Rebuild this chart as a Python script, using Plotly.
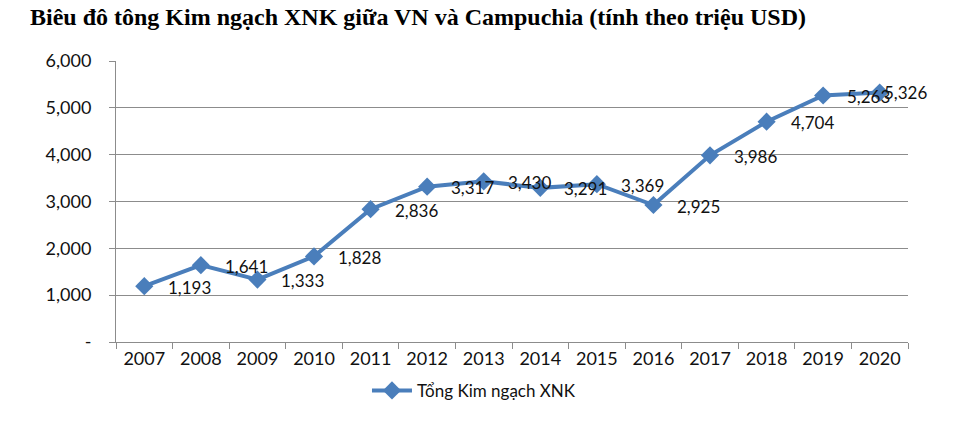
import plotly.graph_objects as go

years = ["2007","2008","2009","2010","2011","2012","2013","2014","2015","2016","2017","2018","2019","2020"]
values = [1193,1641,1333,1828,2836,3317,3430,3291,3369,2925,3986,4704,5263,5326]
labels = [f"{v:,}" for v in values]
y_ticks = [0,1000,2000,3000,4000,5000,6000]
y_ticktext = ["-","1,000","2,000","3,000","4,000","5,000","6,000"]
title = "Biêu đô tông Kim ngạch XNK giữa VN và Campuchia (tính theo triệu USD)"
series_name = "Tổng Kim ngạch XNK"

blue = "#4A7EBB"
grid = "#8C8C8C"
font_fam = "Lato, Open Sans, sans-serif"

fig = go.Figure()
fig.add_trace(go.Scatter(
    x=years, y=values, mode="lines+markers", name=series_name,
    line=dict(color=blue, width=4),
    marker=dict(symbol="diamond", size=14, color=blue),
    cliponaxis=False, showlegend=True,
))

last = len(values) - 1
for i, (v, lab) in enumerate(zip(values, labels)):
    # last label is pushed back inside the chart, as in the original
    fig.add_annotation(x=i, y=v, xref="x", yref="y", text=lab, showarrow=False,
                       xanchor="left", yanchor="middle",
                       xshift=(2 if i == last else 22), yshift=0 if i == last else -1,
                       font=dict(family=font_fam, size=17, color="#111"))

fig.update_layout(
    width=962, height=437,
    margin=dict(l=116, r=54, t=61, b=95),
    paper_bgcolor="white", plot_bgcolor="white",
    showlegend=True,
    title=dict(text=title, x=30/962, xanchor="left", xref="container", y=0.962, yanchor="middle",
               font=dict(family="Liberation Serif, Times New Roman, serif", size=24, color="black", weight="bold")),
    font=dict(family=font_fam, size=18, color="#111"),
    legend=dict(orientation="h", x=0.452, xanchor="center", y=-0.11, yanchor="top",
                font=dict(family=font_fam, size=17, color="#111"), itemwidth=40),
    xaxis=dict(
        type="category", showline=True, linecolor=grid, linewidth=1,
        ticks="outside", tickson="boundaries", ticklen=6, tickcolor=grid,
        showgrid=False, range=[-0.5, 13.5], tickfont=dict(size=18),
    ),
    yaxis=dict(
        range=[0, 6000], tickvals=y_ticks, ticktext=y_ticktext,
        showline=True, linecolor=grid, linewidth=1,
        ticks="outside", ticklen=6, tickcolor=grid,
        showgrid=True, gridcolor=grid, gridwidth=1, zeroline=False,
        ticklabelstandoff=14, tickfont=dict(size=18),
    ),
)

fig.write_html("out.html")
